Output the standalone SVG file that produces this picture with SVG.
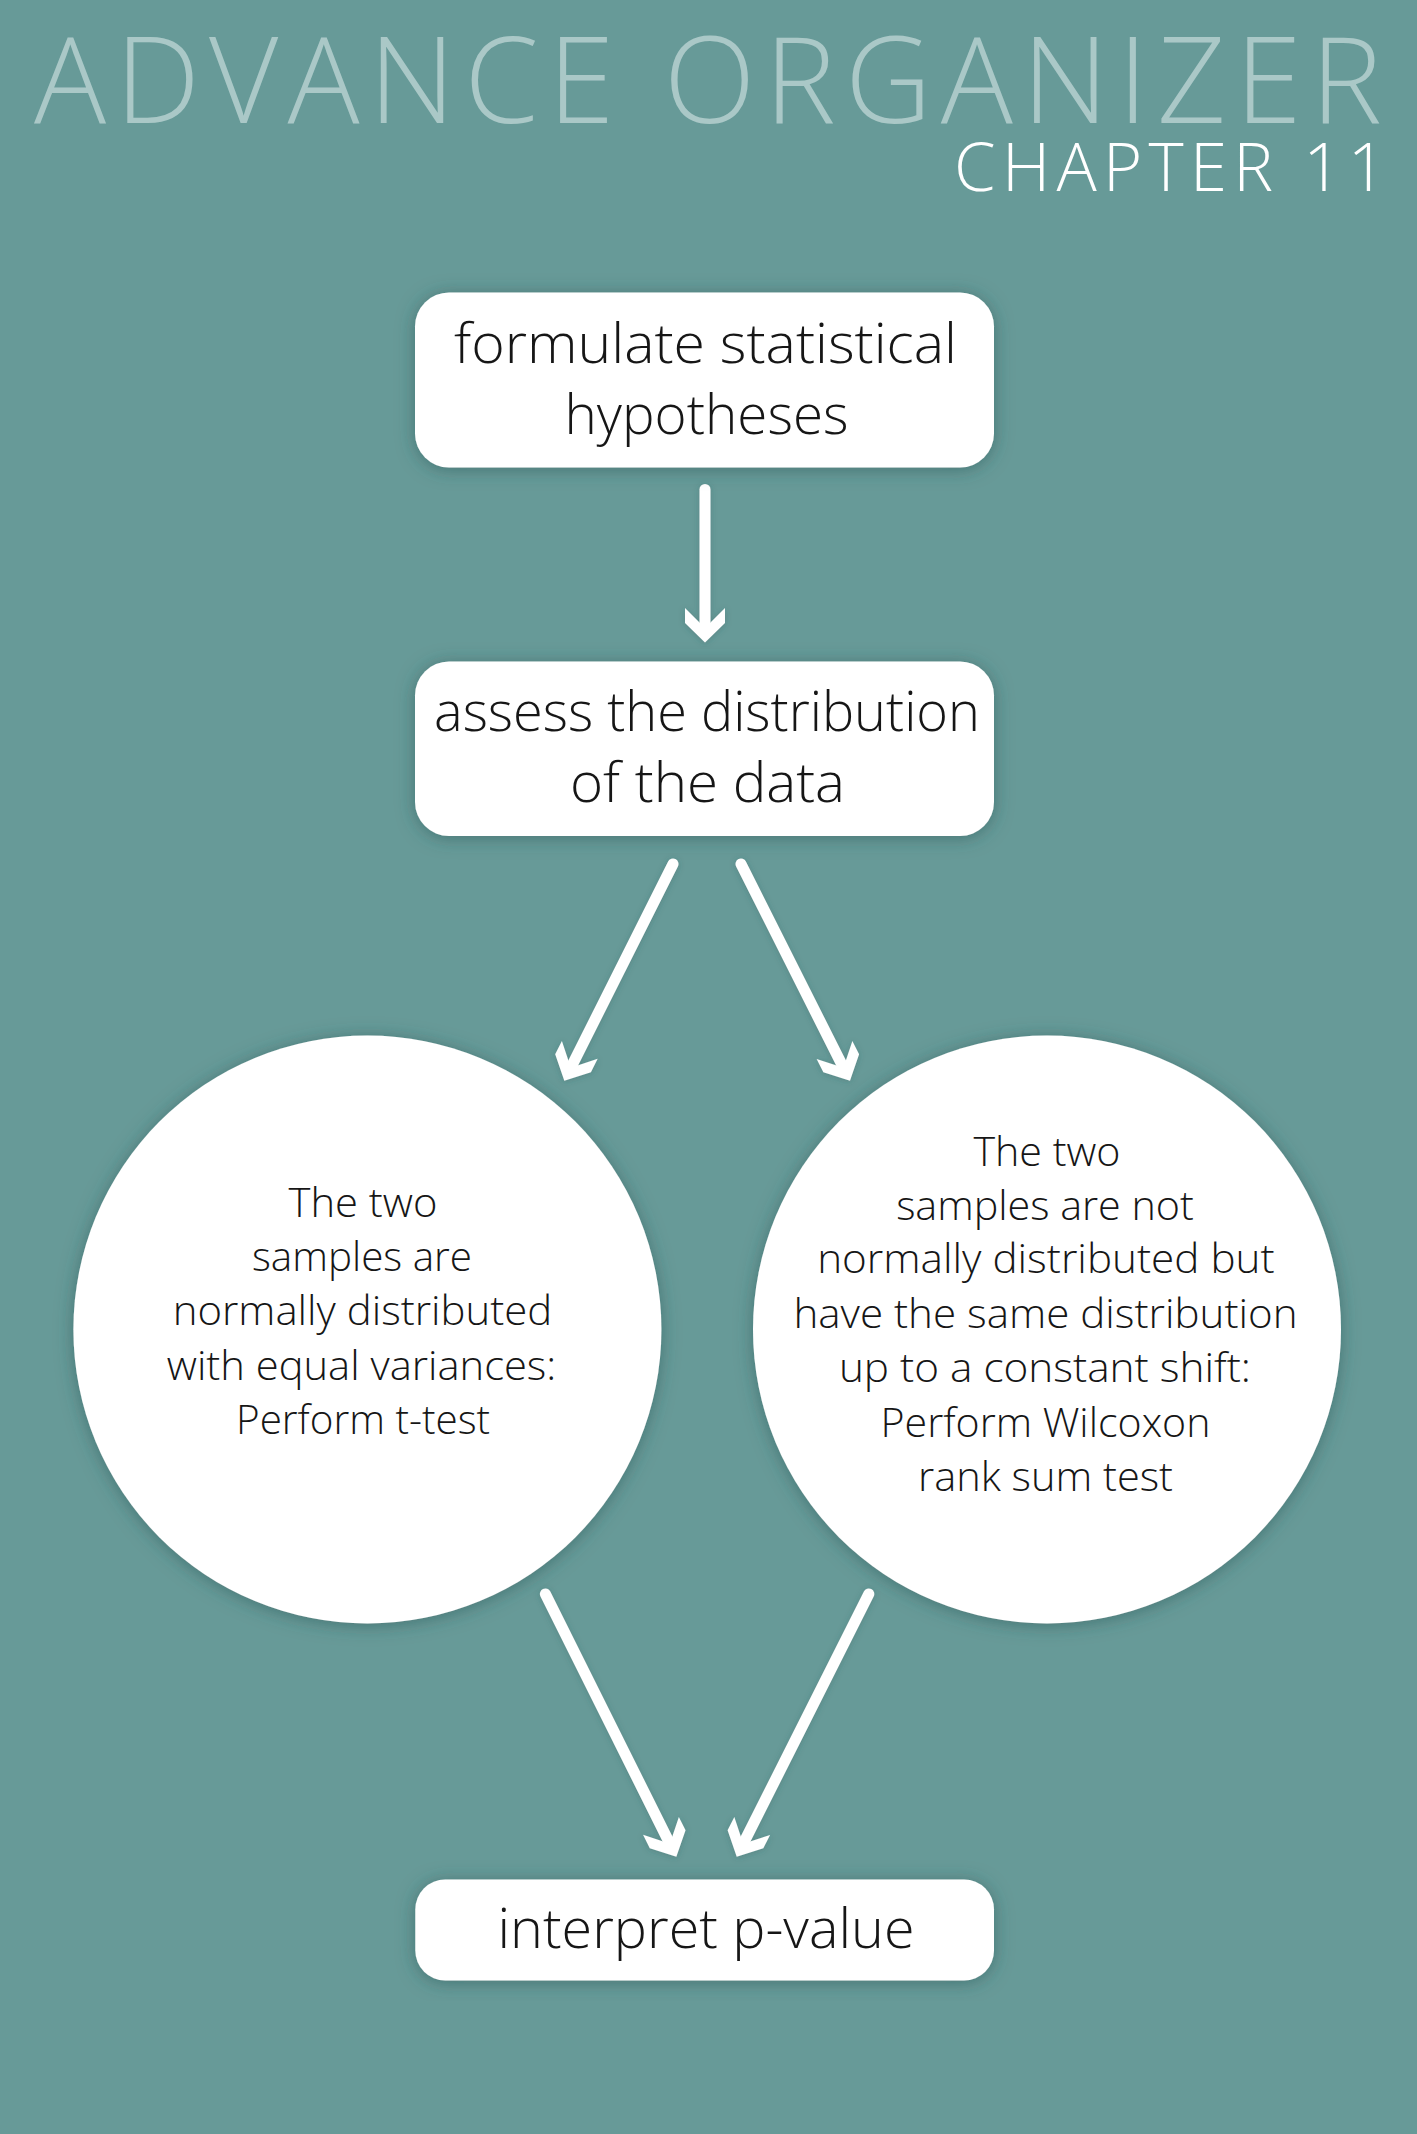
<svg xmlns="http://www.w3.org/2000/svg" width="1417" height="2134" viewBox="0 0 1417 2134">
  <defs>
    <style>
      .title { font-family: "Open Sans", "Liberation Sans", sans-serif; font-weight: 300; fill: #aac8c7; }
      .chapter { font-family: "Open Sans", "Liberation Sans", sans-serif; font-weight: 300; fill: #ffffff; }
      .box { fill: #ffffff; filter: url(#shadow); }
      .lbl { font-family: "Open Sans", "Liberation Sans", sans-serif; font-weight: 300; fill: #161616; text-anchor: middle; }
      .big { font-size: 56px; }
      .small { font-size: 41px; }
      .conn { stroke: #ffffff; stroke-width: 11; stroke-linecap: round; fill: none; marker-end: url(#chev); }
    </style>
    <filter id="shadow" x="-20%" y="-20%" width="140%" height="140%">
      <feDropShadow dx="0" dy="2" stdDeviation="9" flood-color="#2c5352" flood-opacity="0.55"/>
    </filter>
    <filter id="ashadow" filterUnits="userSpaceOnUse" x="0" y="0" width="1417" height="2134">
      <feDropShadow dx="0" dy="1" stdDeviation="3" flood-color="#2c5352" flood-opacity="0.3"/>
    </filter>
    <marker id="chev" markerUnits="userSpaceOnUse" viewBox="-30 -30 60 60" markerWidth="60" markerHeight="60" refX="0" refY="0" orient="auto" overflow="visible">
      <path d="M12,0 L-7.5,-20 L-22.5,-20 L-2.5,0 L-22.5,20 L-7.5,20 Z" fill="#ffffff"/>
    </marker>
  </defs>

  <rect x="0" y="0" width="1417" height="2134" fill="#679a98"/>

  <g id="header">
    <text class="title" x="34" y="123" font-size="120" textLength="1348" lengthAdjust="spacing">ADVANCE ORGANIZER</text>
    <text class="chapter" x="954" y="191" font-size="67" textLength="432" lengthAdjust="spacing">CHAPTER 11</text>
  </g>

  <g id="connectors" filter="url(#ashadow)">
    <line class="conn" x1="705" y1="489.5" x2="705" y2="630.5"/>
    <line class="conn" x1="673" y1="864" x2="569.7" y2="1070"/>
    <line class="conn" x1="741" y1="864" x2="844.6" y2="1070"/>
    <line class="conn" x1="545.4" y1="1594" x2="671" y2="1846"/>
    <line class="conn" x1="868.8" y1="1594" x2="742.1" y2="1846"/>
  </g>

  <g id="node-formulate">
    <rect class="box" x="415" y="292.5" width="579" height="175" rx="34" ry="34"/>
    <text class="lbl big" x="705.5" y="363" textLength="503" lengthAdjust="spacingAndGlyphs">formulate statistical</text>
    <text class="lbl big" x="706.5" y="434" textLength="284" lengthAdjust="spacingAndGlyphs">hypotheses</text>
  </g>

  <g id="node-assess">
    <rect class="box" x="415" y="661.5" width="579" height="174.5" rx="34" ry="34"/>
    <text class="lbl big" x="707" y="731" textLength="546" lengthAdjust="spacingAndGlyphs">assess the distribution</text>
    <text class="lbl big" x="707.5" y="802" textLength="275" lengthAdjust="spacingAndGlyphs">of the data</text>
  </g>

  <g id="node-ttest">
    <circle class="box" cx="367.4" cy="1329.5" r="294"/>
    <text class="lbl small" x="363" y="1216.5" textLength="149" lengthAdjust="spacingAndGlyphs">The two</text>
    <text class="lbl small" x="362" y="1271" textLength="220" lengthAdjust="spacingAndGlyphs">samples are</text>
    <text class="lbl small" x="362.5" y="1325" textLength="379.6" lengthAdjust="spacingAndGlyphs">normally distributed</text>
    <text class="lbl small" x="361.5" y="1380" textLength="389.5" lengthAdjust="spacingAndGlyphs">with equal variances:</text>
    <text class="lbl small" x="363" y="1434" textLength="254" lengthAdjust="spacingAndGlyphs">Perform t-test</text>
  </g>

  <g id="node-wilcoxon">
    <circle class="box" cx="1047" cy="1329.5" r="294"/>
    <text class="lbl small" x="1046.9" y="1166.3" textLength="147" lengthAdjust="spacingAndGlyphs">The two</text>
    <text class="lbl small" x="1045" y="1219.7" textLength="297.7" lengthAdjust="spacingAndGlyphs">samples are not</text>
    <text class="lbl small" x="1045.9" y="1273" textLength="457.5" lengthAdjust="spacingAndGlyphs">normally distributed but</text>
    <text class="lbl small" x="1045.5" y="1327.6" textLength="504.2" lengthAdjust="spacingAndGlyphs">have the same distribution</text>
    <text class="lbl small" x="1044.9" y="1381.8" textLength="412" lengthAdjust="spacingAndGlyphs">up to a constant shift:</text>
    <text class="lbl small" x="1045.5" y="1437.2" textLength="330" lengthAdjust="spacingAndGlyphs">Perform Wilcoxon</text>
    <text class="lbl small" x="1045.5" y="1491.3" textLength="255" lengthAdjust="spacingAndGlyphs">rank sum test</text>
  </g>

  <g id="node-interpret">
    <rect class="box" x="415.3" y="1879.5" width="578.7" height="101" rx="30" ry="30"/>
    <text class="lbl big" x="706" y="1947.7" textLength="417" lengthAdjust="spacingAndGlyphs">interpret p-value</text>
  </g>
</svg>
